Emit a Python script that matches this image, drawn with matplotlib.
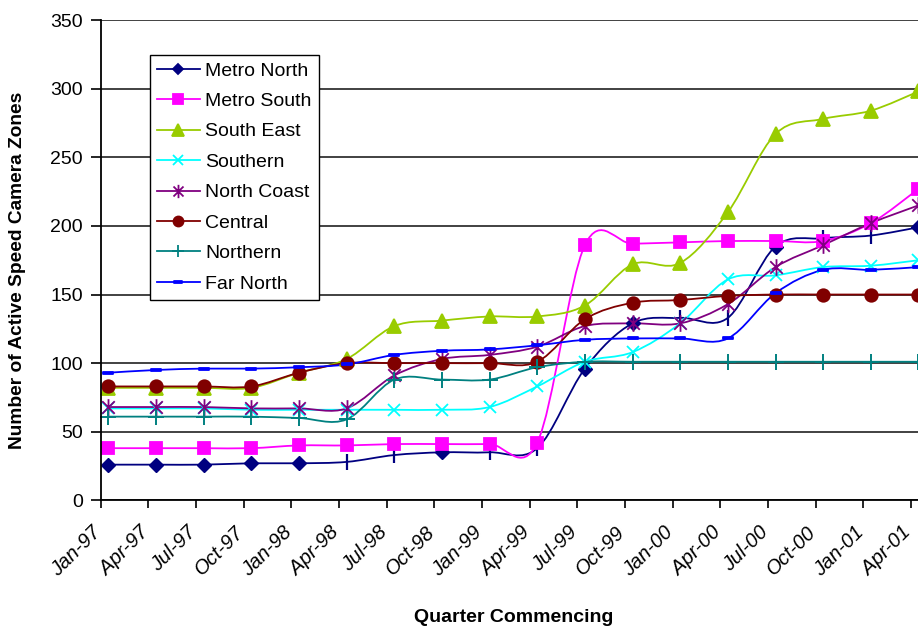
import numpy as np
import matplotlib.pyplot as plt
from matplotlib.path import Path
from matplotlib.patches import PathPatch
from matplotlib.lines import Line2D

plt.rcParams['font.family'] = ['Liberation Sans', 'DejaVu Sans']

#%%# data: active speed camera zones per quarter

quarters = ["Jan-97", "Apr-97", "Jul-97", "Oct-97", "Jan-98", "Apr-98", "Jul-98", "Oct-98", "Jan-99",
            "Apr-99", "Jul-99", "Oct-99", "Jan-00", "Apr-00", "Jul-00", "Oct-00", "Jan-01", "Apr-01"]

metro_north = [26, 26, 26, 27, 27, 28, 33, 35, 35, 38, 96, 129, 133, 133, 185, 191, 193, 199]
metro_south = [38, 38, 38, 38, 40, 40, 41, 41, 41, 42, 186, 187, 188, 189, 189, 189, 202, 227]
south_east = [82, 82, 82, 82, 93, 103, 127, 131, 134, 134, 142, 172, 173, 210, 267, 278, 284, 298]
southern = [67, 67, 67, 66, 66, 66, 66, 66, 68, 83, 101, 108, 129, 161, 164, 170, 171, 175]
north_coast = [68, 68, 68, 67, 67, 67, 91, 103, 106, 112, 127, 129, 129, 143, 170, 186, 202, 215]
central = [83, 83, 83, 83, 93, 100, 100, 100, 100, 101, 132, 144, 146, 149, 150, 150, 150, 150]
northern = [61, 61, 61, 61, 60, 59, 88, 88, 88, 97, 101, 101, 101, 101, 101, 101, 101, 101]
far_north = [93, 95, 96, 96, 97, 99, 106, 109, 110, 113, 117, 118, 118, 118, 151, 168, 168, 170]

names = ["Metro North", "Metro South", "South East", "Southern", "North Coast", "Central", "Northern", "Far North"]
series = [metro_north, metro_south, south_east, southern, north_coast, central, northern, far_north]
colours = ["#000080", "#FF00FF", "#99CC00", "#00FFFF", "#800080", "#800000", "#008080", "#0000FF"]

#%%# marker shapes

asterisk = Path([(0, -1), (0, 1), (-0.75, -0.75), (0.75, 0.75), (-0.75, 0.75), (0.75, -0.75)],
                [Path.MOVETO, Path.LINETO] * 3)
dash = Path([(-1, -0.3), (1, -0.3), (1, 0.3), (-1, 0.3), (-1, -0.3)],
            [Path.MOVETO, Path.LINETO, Path.LINETO, Path.LINETO, Path.CLOSEPOLY])
markers = [("D", 7), ("s", 9), ("^", 10), ("x", 9), (asterisk, 12), ("o", 9), ("+", 11), (dash, 7)]

#%%# smoothed line as a bezier path

def smooth_path(xs, ys):
    pts = np.column_stack([xs, ys]).astype(float)
    n = len(pts)
    verts = [pts[0]]
    codes = [Path.MOVETO]
    for i in range(n - 1):
        p0 = pts[i - 1] if i > 0 else pts[i]
        p1 = pts[i]
        p2 = pts[i + 1]
        p3 = pts[i + 2] if i + 2 < n else pts[i + 1]
        verts += [p1 + (p2 - p0) / 6, p2 - (p3 - p1) / 6, p2]
        codes += [Path.CURVE4] * 3
    return Path(verts, codes)

#%%# plot

fig = plt.figure(figsize=(9.18, 6.33), dpi=100)
ax = fig.add_axes([0.1097, 0.2096, 0.8903, 0.7586])

x = np.arange(len(quarters)) + 0.16

for k, (vals, col) in enumerate(zip(series, colours)):
    ax.add_patch(PathPatch(smooth_path(x, vals), fill=False, edgecolor=col, lw=1.3, zorder=3 + k * 0.1))

# the Metro North line shows diamonds only at some quarters, plain ticks elsewhere
diamond_idx = [0, 1, 2, 3, 4, 7, 10, 11, 14, 17]
bar_idx = [i for i in range(len(quarters)) if i not in diamond_idx]

for k, (vals, col, (m, ms)) in enumerate(zip(series, colours, markers)):
    vals = np.array(vals)
    mew = 1.3
    if m == "+":
        mew = 1.4
    if k == 0:
        ax.plot(x[diamond_idx], vals[diamond_idx], ls="none", marker="D", ms=ms, color=col,
                mec=col, clip_on=False, zorder=5)
        ax.plot(x[bar_idx], vals[bar_idx], ls="none", marker="|", ms=12, color=col,
                mew=1.6, clip_on=False, zorder=5)
    else:
        ax.plot(x, vals, ls="none", marker=m, ms=ms, color=col, mec=col, mew=mew,
                clip_on=False, zorder=5)

ax.set_xlim(0, 17.15)
ax.set_ylim(0, 350)
ax.set_yticks(np.arange(0, 351, 50))
ax.set_xticks(np.arange(len(quarters)))
ax.set_xticklabels([])
ax.tick_params(axis="y", direction="out", length=7, width=1.2, labelsize=14, pad=6)
ax.tick_params(axis="x", direction="out", length=6, width=1.2)
ax.grid(axis="y", color="#333333", lw=1.3, zorder=1)
ax.set_axisbelow(True)
for s in ["top", "right"]:
    ax.spines[s].set_visible(False)
for s in ["left", "bottom"]:
    ax.spines[s].set_linewidth(1.3)
    ax.spines[s].set_zorder(6)

# slanted italic quarter labels ending at each tick
for i, q in enumerate(quarters):
    ax.annotate(q, xy=(i, 0), xycoords=("data", "axes fraction"), xytext=(-2, -21),
                textcoords="offset points", rotation=45, rotation_mode="anchor",
                ha="right", va="center", fontsize=14.5, style="italic")

fig.text(0.0196, 0.5735, "Number of Active Speed Camera Zones", rotation=90, ha="center",
         va="center", fontsize=13.8, fontweight="bold")
fig.text(0.56, 0.0237, "Quarter Commencing", ha="center", va="center", fontsize=14, fontweight="bold")

handles = []
for k, (col, (m, ms)) in enumerate(zip(colours, markers)):
    handles.append(Line2D([], [], color=col, lw=1.3, marker=m, ms=ms * 0.8, mec=col, mew=1.3))
leg = ax.legend(handles, names, loc="upper left", bbox_to_anchor=(0.0603, 0.927), borderaxespad=0,
                fontsize=14, frameon=True, fancybox=False, edgecolor="black", framealpha=1,
                handlelength=2.2, handletextpad=0.3, labelspacing=0.66, borderpad=0.35, numpoints=1)
leg.get_frame().set_linewidth(1.0)
leg.set_zorder(10)

fig.savefig("out.png", dpi=100)
